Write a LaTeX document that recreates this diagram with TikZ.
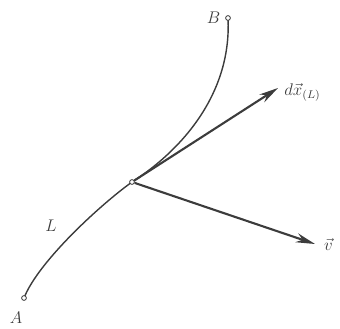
\documentclass[tikz,border=0pt]{standalone}
\usepackage{amsmath,amssymb}
\usetikzlibrary{positioning,calc,arrows.meta}
\definecolor{InkGray}{RGB}{60,60,60}
\tikzset{
  pt/.style={circle,draw=InkGray,fill=white,inner sep=1.2pt,line width=.6pt},
  path/.style={draw=InkGray,line width=1pt},
  vec/.style={draw=InkGray,line width=1.5pt,-{Stealth[length=4.8mm,width=2.3mm]}},
  lbl/.style={text=InkGray,font=\large},
}

\begin{document}
\begin{tikzpicture}[x=0.025cm,y=-0.025cm]
\useasboundingbox (0,0) rectangle (340,328);
\coordinate (tipdx) at (278,88);\coordinate (tipv) at (315,244);
\draw[path] (24,298) .. controls (38,262) and (100,205) .. (132,182)
  .. controls (176,154) and (232,98) .. (228,18);
\node[pt,label={[lbl]left:$B$}](B) at (228,18){};
\node[pt](A) at (24,298){};\node[lbl] at (16,318){$A$};
\node[pt](P) at (132,182){};\node[lbl] at (51,226){$L$};
\draw[vec](P)--(tipdx);\draw[vec](P)--(tipv);
\node[lbl,right=1pt of tipdx,yshift=-3pt]{$d\vec{x}_{(L)}$};
\node[lbl,right=3pt of tipv]{$\vec{v}$};
\end{tikzpicture}
\end{document}
